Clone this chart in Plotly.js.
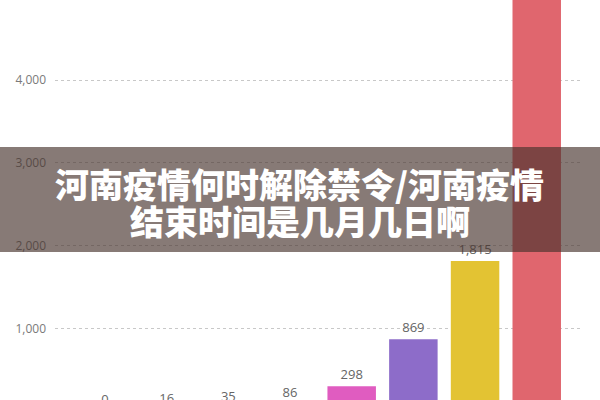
<!DOCTYPE html>
<html>
<head>
<meta charset="utf-8">
<script src="https://cdn.plot.ly/plotly-3.0.1.min.js"></script>
<style>
  html, body { margin: 0; padding: 0; width: 600px; height: 400px; overflow: hidden; background: #fff; }
  #graph { width: 600px; height: 420px; }
</style>
</head>
<body>
<div id="graph"></div>
<script>
// bars, left to right (category names are not shown in the picture)
let categories = ['1', '2', '3', '4', '5', '6', '7', '8'];
let counts = [0, 16, 35, 86, 298, 869, 1815, 5600];
let barColors = ['#5b9bd5', '#ed7d31', '#70ad47', '#4bacc6', '#e05cc0', '#8d6cc9', '#e3c333', '#e0666e'];
let yTicks = [0, 1000, 2000, 3000, 4000, 5000];
let bannerLines = ['河南疫情何时解除禁令/河南疫情', '结束时间是几月几日啊'];

let data = [{
    x: categories,
    y: counts,
    type: 'bar',
    marker: { color: barColors },
    texttemplate: '%{y:,}',
    textposition: 'outside',
    cliponaxis: false,
    textfont: { family: 'Open Sans, sans-serif', size: 13, color: '#666' },
    hoverinfo: 'none'
}];

let layout = {
    width: 600,
    height: 420,
    margin: { l: 55, r: 17, t: 0, b: 9 },
    paper_bgcolor: '#fff',
    plot_bgcolor: '#fff',
    showlegend: false,
    bargap: 0.214,
    xaxis: {
        type: 'category',
        range: [-0.81, 7.75],
        showticklabels: false,
        showgrid: false,
        zeroline: false,
        showline: false,
        ticks: ''
    },
    yaxis: {
        range: [0, 4970],
        tickvals: yTicks,
        tickformat: ',',
        showgrid: true,
        gridcolor: '#c8c8c8',
        griddash: 'dot',
        gridwidth: 1,
        zeroline: false,
        showline: false,
        ticks: '',
        ticklabelstandoff: 8,
        tickfont: { family: 'Open Sans, sans-serif', size: 12, color: '#7a7a7a' }
    },
    // dark band across the middle of the picture
    shapes: [{
        type: 'rect',
        xref: 'paper', yref: 'paper',
        x0: -0.2, x1: 1.2,
        y0: 0.3869, y1: 0.6423,
        fillcolor: 'rgba(70,50,45,0.65)',
        line: { width: 0 },
        layer: 'above'
    }],
    annotations: bannerLines.map((line, i) => ({
        xref: 'paper', yref: 'paper',
        x: 0.464, y: [0.5547, 0.4647][i],
        xanchor: 'center', yanchor: 'middle',
        text: line,
        showarrow: false,
        font: { family: 'Noto Sans CJK SC', size: 34, weight: 900, color: '#fff' }
    }))
};

Plotly.newPlot('graph', data, layout, { displayModeBar: false, staticPlot: true });
</script>
</body>
</html>
